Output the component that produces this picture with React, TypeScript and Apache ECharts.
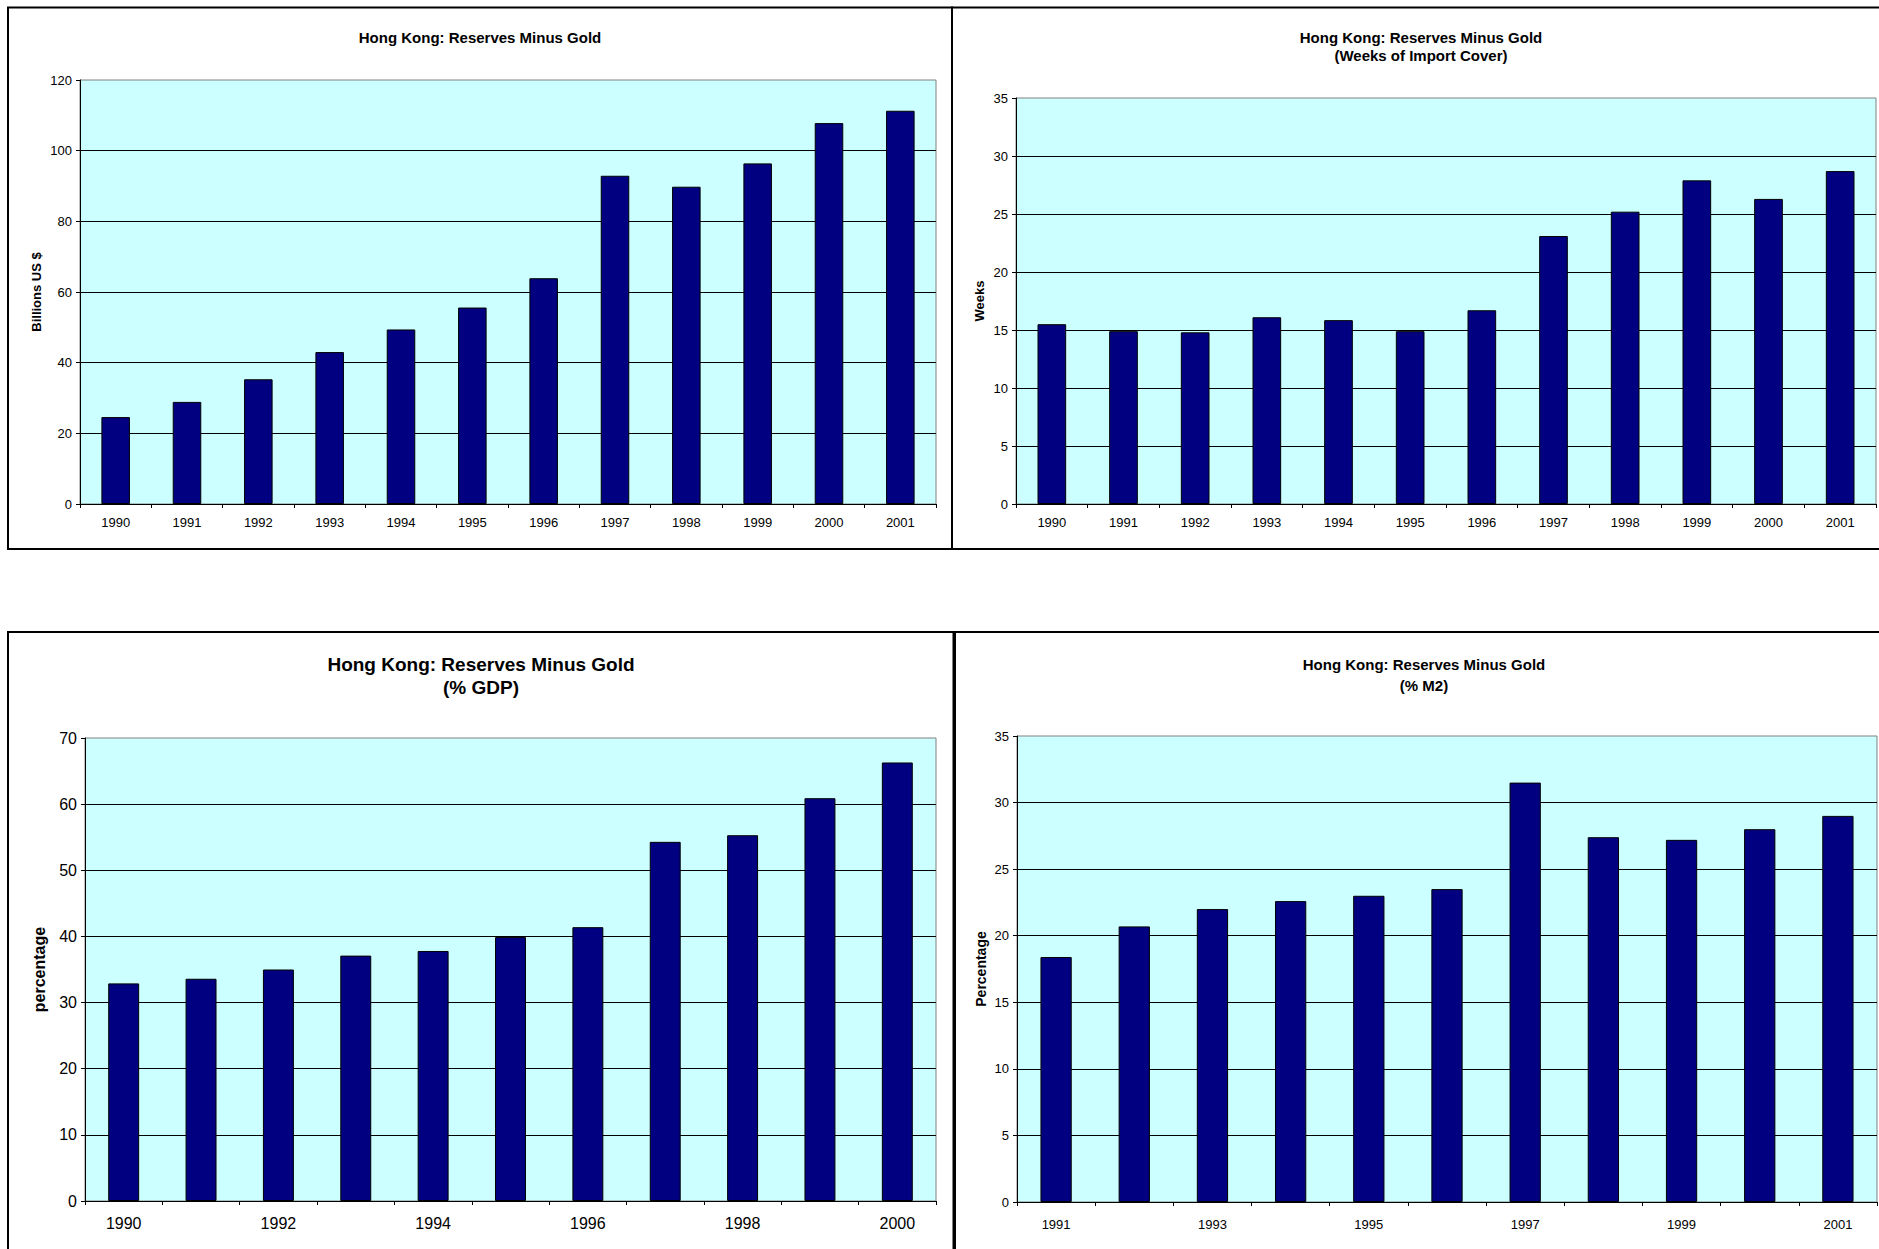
import React, { useEffect, useRef } from "react";
import * as echarts from "echarts";

// ---- Data ----
const years1990to2001 = ["1990", "1991", "1992", "1993", "1994", "1995", "1996", "1997", "1998", "1999", "2000", "2001"];
const years1990to2000 = ["1990", "1991", "1992", "1993", "1994", "1995", "1996", "1997", "1998", "1999", "2000"];
const years1991to2001 = ["1991", "1992", "1993", "1994", "1995", "1996", "1997", "1998", "1999", "2000", "2001"];

const reservesBillionsUSD = [24.6, 28.9, 35.3, 43.0, 49.4, 55.6, 63.9, 92.9, 89.8, 96.4, 107.8, 111.3];
const importCoverWeeks = [15.5, 14.9, 14.8, 16.1, 15.85, 14.9, 16.7, 23.1, 25.2, 27.9, 26.3, 28.7];
const reservesPctGDP = [32.9, 33.6, 35.0, 37.1, 37.8, 39.9, 41.4, 54.3, 55.3, 60.9, 66.3];
const reservesPctM2 = [18.4, 20.7, 22.0, 22.6, 23.0, 23.5, 31.5, 27.4, 27.2, 28.0, 29.0];

const mainTitle = "Hong Kong: Reserves Minus Gold";
const subTitles = ["", "(Weeks of Import Cover)", "(% GDP)", "(% M2)"];
const yNames = ["Billions US $", "Weeks", "percentage", "Percentage"];
const yMax = [120, 35, 70, 35];
const yInterval = [20, 5, 10, 5];

const FONT = "'Liberation Sans', Arial, Helvetica, sans-serif";

type Panel = {
  categories: string[];
  values: number[];
  grid: { left: number; top: number; width: number; height: number };
  fontSize: number;
  nameSize: number;
  nameGap: number;
  labelMargin: number;
  labelInterval: number;
  max: number;
  interval: number;
  name: string;
};

const panels: Panel[] = [
  {
    categories: years1990to2001, values: reservesBillionsUSD,
    grid: { left: 80, top: 80, width: 856, height: 424 },
    fontSize: 13, nameSize: 13, nameGap: 37, labelMargin: 12, labelInterval: 0,
    max: yMax[0], interval: yInterval[0], name: yNames[0],
  },
  {
    categories: years1990to2001, values: importCoverWeeks,
    grid: { left: 1016, top: 98, width: 860, height: 406 },
    fontSize: 13, nameSize: 13, nameGap: 30, labelMargin: 12, labelInterval: 0,
    max: yMax[1], interval: yInterval[1], name: yNames[1],
  },
  {
    categories: years1990to2000, values: reservesPctGDP,
    grid: { left: 85, top: 738, width: 851, height: 463 },
    fontSize: 16, nameSize: 16, nameGap: 38, labelMargin: 14, labelInterval: 1,
    max: yMax[2], interval: yInterval[2], name: yNames[2],
  },
  {
    categories: years1991to2001, values: reservesPctM2,
    grid: { left: 1017, top: 736, width: 860, height: 466 },
    fontSize: 13, nameSize: 14, nameGap: 29, labelMargin: 16, labelInterval: 1,
    max: yMax[3], interval: yInterval[3], name: yNames[3],
  },
];

const titlePos = [
  { x: 480, y: 37, size: 15, lh: 18 },
  { x: 1421, y: 37, size: 15, lh: 18.5 },
  { x: 481, y: 664, size: 19, lh: 23 },
  { x: 1424, y: 664, size: 15, lh: 21.5 },
];

export default function App() {
  const ref = useRef<HTMLDivElement>(null);

  useEffect(() => {
    if (!ref.current) return;
    document.body.style.margin = "0";
    const chart = echarts.init(ref.current, null, { renderer: "svg" });

    const grids = panels.map((p) => ({
      ...p.grid,
      show: true,
      backgroundColor: "#CCFFFF",
      borderColor: "#808080",
      borderWidth: 1,
      containLabel: false,
    }));

    const xAxes = panels.map((p, i) => ({
      type: "category",
      gridIndex: i,
      data: p.categories,
      boundaryGap: true,
      axisLine: { show: true, lineStyle: { color: "#000", width: 1 } },
      axisTick: { show: true, length: 4, interval: 0, alignWithLabel: false, lineStyle: { color: "#000" } },
      axisLabel: {
        interval: p.labelInterval,
        margin: p.labelMargin,
        color: "#000",
        fontFamily: FONT,
        fontSize: p.fontSize,
      },
      splitLine: { show: false },
    }));

    const yAxes = panels.map((p, i) => ({
      type: "value",
      gridIndex: i,
      min: 0,
      max: p.max,
      interval: p.interval,
      name: p.name,
      nameLocation: "middle",
      nameRotate: 90,
      nameGap: p.nameGap,
      nameTextStyle: { color: "#000", fontFamily: FONT, fontSize: p.nameSize, fontWeight: "bold" },
      axisLine: { show: true, lineStyle: { color: "#000", width: 1 } },
      axisTick: { show: true, length: 4, lineStyle: { color: "#000" } },
      axisLabel: { margin: 8, color: "#000", fontFamily: FONT, fontSize: p.fontSize },
      splitLine: {
        show: true,
        showMinLine: false,
        showMaxLine: false,
        lineStyle: { color: "#000", width: 1 },
      },
    }));

    const series = panels.map((p, i) => ({
      type: "bar",
      xAxisIndex: i,
      yAxisIndex: i,
      data: p.values,
      barWidth: "40%",
      itemStyle: { color: "#000080", borderColor: "#000", borderWidth: 1 },
    }));

    const titles = titlePos.map((t, i) => ({
      type: "text",
      x: t.x,
      y: t.y - t.lh / 2,
      silent: true,
      style: {
        text: subTitles[i] ? mainTitle + "\n" + subTitles[i] : mainTitle,
        fontFamily: FONT,
        fontSize: t.size,
        fontWeight: "bold",
        lineHeight: t.lh,
        fill: "#000",
        align: "center",
        verticalAlign: "top",
      },
    }));

    const borders = [
      { x: 8, y: 7.5, w: 944, h: 541.5 },
      { x: 952, y: 7.5, w: 950, h: 541.5 },
      { x: 8, y: 632, w: 945.5, h: 700 },
      { x: 955, y: 632, w: 950, h: 700 },
    ].map((b) => ({
      type: "rect",
      silent: true,
      shape: { x: b.x, y: b.y, width: b.w, height: b.h },
      style: { fill: "none", stroke: "#000", lineWidth: 2 },
    }));

    chart.setOption({
      animation: false,
      backgroundColor: "#fff",
      textStyle: { fontFamily: FONT },
      grid: grids,
      xAxis: xAxes,
      yAxis: yAxes,
      series,
      graphic: [...borders, ...titles],
    });

    return () => chart.dispose();
  }, []);

  return (
    <div
      ref={ref}
      style={{ position: "fixed", left: 0, top: 0, width: 1879, height: 1249 }}
    />
  );
}
